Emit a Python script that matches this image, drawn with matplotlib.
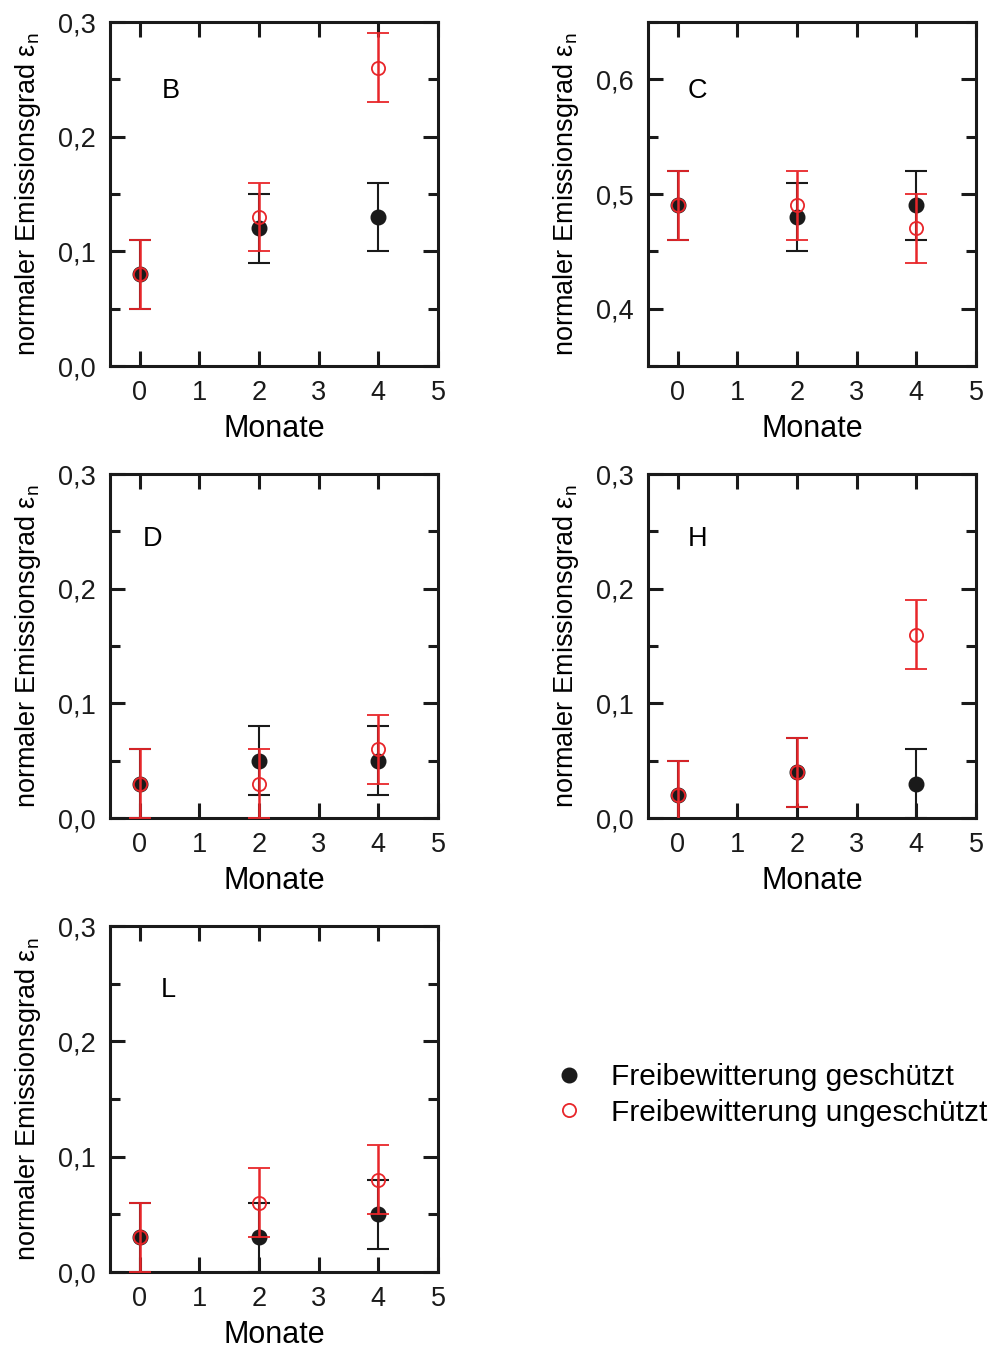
import matplotlib
matplotlib.use("Agg")
import matplotlib.pyplot as plt
from matplotlib.ticker import MultipleLocator, FuncFormatter
from matplotlib.lines import Line2D

plt.rcParams['font.family'] = ['Liberation Sans', 'DejaVu Sans']
plt.rcParams['mathtext.fontset'] = 'custom'
plt.rcParams['mathtext.rm'] = 'Liberation Sans'
plt.rcParams['mathtext.it'] = 'Liberation Sans:italic'

# months
monate = [0, 2, 4]

# panel B
b_geschuetzt = [0.08, 0.12, 0.13]
b_ungeschuetzt = [0.08, 0.13, 0.26]
# panel C
c_geschuetzt = [0.49, 0.48, 0.49]
c_ungeschuetzt = [0.49, 0.49, 0.47]
# panel D
d_geschuetzt = [0.03, 0.05, 0.05]
d_ungeschuetzt = [0.03, 0.03, 0.06]
# panel H
h_geschuetzt = [0.02, 0.04, 0.03]
h_ungeschuetzt = [0.02, 0.04, 0.16]
# panel L
l_geschuetzt = [0.03, 0.03, 0.05]
l_ungeschuetzt = [0.03, 0.06, 0.08]

fehler = 0.03  # symmetric error of every point

panels = [
    ("B", b_geschuetzt, b_ungeschuetzt, (0.0, 0.3), [0.186, 0.80]),
    ("C", c_geschuetzt, c_ungeschuetzt, (0.35, 0.65), [0.15, 0.80]),
    ("D", d_geschuetzt, d_ungeschuetzt, (0.0, 0.3), [0.13, 0.81]),
    ("H", h_geschuetzt, h_ungeschuetzt, (0.0, 0.3), [0.15, 0.81]),
    ("L", l_geschuetzt, l_ungeschuetzt, (0.0, 0.3), [0.177, 0.815]),
]

W, H = 992, 1348
# axes boxes in pixels: left, top, right, bottom
boxes = [
    (110, 22, 438, 366),
    (648, 22, 976, 366),
    (110, 474, 438, 818),
    (648, 474, 976, 818),
    (110, 926, 438, 1272),
]

RED = '#e8262a'
BLACK = '#1a1a1a'

fig = plt.figure(figsize=(W / 100, H / 100), dpi=100)

komma = FuncFormatter(lambda v, p: f"{v:.1f}".replace('.', ','))

for (name, g, u, ylim, lpos), (l, t, r, b) in zip(panels, boxes):
    ax = fig.add_axes([l / W, 1 - b / H, (r - l) / W, (b - t) / H])
    ax.errorbar(monate, g, yerr=fehler, fmt='o', color=BLACK, ms=10.5,
                elinewidth=1.5, capsize=8, capthick=1.5, zorder=3)
    ax.errorbar(monate, u, yerr=fehler, fmt='o', color=RED, mfc='none', mec=RED,
                ms=9.5, mew=1.3, elinewidth=1.8, capsize=8, capthick=1.8, zorder=4)
    ax.set_xlim(-0.5, 5)
    ax.set_ylim(*ylim)
    ax.xaxis.set_major_locator(MultipleLocator(1))
    ax.yaxis.set_major_locator(MultipleLocator(0.1))
    ax.yaxis.set_minor_locator(MultipleLocator(0.05))
    ax.yaxis.set_major_formatter(komma)
    ax.tick_params(which='both', direction='in', top=True, right=True,
                   width=2.2, labelsize=19.5, colors=BLACK)
    ax.tick_params(which='major', length=11, pad=10)
    ax.tick_params(which='minor', length=7)
    for s in ax.spines.values():
        s.set_linewidth(2.2)
        s.set_color(BLACK)
    ax.set_xlabel("Monate", fontsize=22, labelpad=6)
    ax.set_ylabel(r"normaler Emissionsgrad ε$_\mathrm{n}$", fontsize=19.5, labelpad=11)
    ax.text(lpos[0], lpos[1], name, transform=ax.transAxes, fontsize=19.5,
            ha='center', va='center')

handles = [
    Line2D([], [], ls='none', marker='o', color=BLACK, ms=10.5),
    Line2D([], [], ls='none', marker='o', mfc='none', mec=RED, mew=1.3, ms=9.5),
]
fig.legend(handles, ["Freibewitterung geschützt", "Freibewitterung ungeschützt"],
           loc='center left', bbox_to_anchor=(527 / W, 1 - 1095 / H), frameon=False,
           fontsize=21.5, handletextpad=0.9, labelspacing=0.25, handlelength=1.0)

fig.savefig("out.png", dpi=100)
